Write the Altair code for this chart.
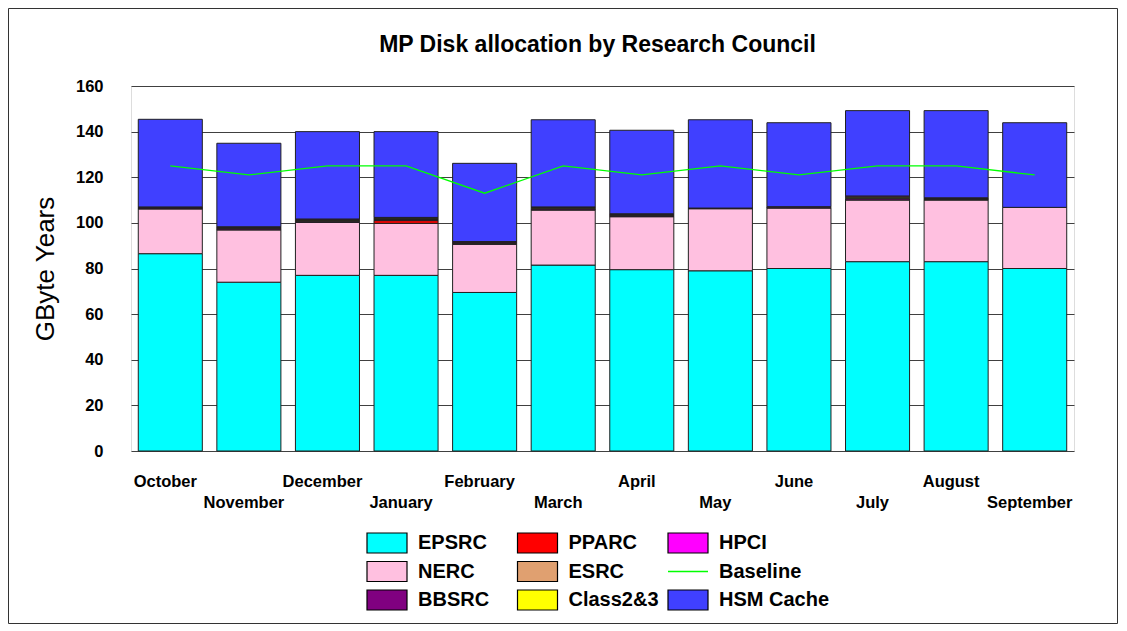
import json
import altair as alt
import pandas as pd

months = ['October', 'November', 'December', 'January', 'February', 'March',
          'April', 'May', 'June', 'July', 'August', 'September']

EPSRC = [86.5, 74.0, 77.0, 77.0, 69.5, 81.5, 79.5, 79.0, 80.0, 83.0, 83.0, 80.0]
NERC = [19.6, 22.9, 23.2, 22.8, 21.1, 24.1, 23.2, 27.2, 26.5, 27.0, 27.0, 26.8]
PPARC = [0.0, 0.0, 0.0, 1.2, 0.0, 0.0, 0.0, 0.0, 0.0, 0.0, 0.0, 0.0]
BBSRC = [0.4, 0.5, 0.5, 0.5, 0.4, 0.5, 0.4, 0.1, 0.2, 0.6, 0.3, 0.0]
ESRC = [0.2, 0.3, 0.3, 0.3, 0.3, 0.3, 0.3, 0.1, 0.1, 0.4, 0.2, 0.0]
CLASS23 = [0.1, 0.3, 0.4, 0.3, 0.2, 0.3, 0.3, 0.0, 0.1, 0.4, 0.2, 0.0]
HPCI = [0.2, 0.3, 0.3, 0.3, 0.3, 0.3, 0.3, 0.1, 0.2, 0.4, 0.3, 0.0]
HSM = [38.4, 36.6, 38.3, 37.6, 34.3, 38.2, 36.6, 38.7, 36.8, 37.4, 38.2, 37.1]
BASELINE = [125, 121, 125, 125, 113, 125, 121, 125, 121, 125, 125, 121]

stack_names = ['EPSRC', 'NERC', 'PPARC', 'BBSRC', 'ESRC', 'Class2&3', 'HPCI', 'HSM Cache']
stack_values = [EPSRC, NERC, PPARC, BBSRC, ESRC, CLASS23, HPCI, HSM]
colors = {
    'EPSRC': '#00FFFF', 'NERC': '#FFC0E0', 'PPARC': '#FF0000', 'BBSRC': '#800080',
    'ESRC': '#E0A070', 'Class2&3': '#FFFF00', 'HPCI': '#FF00FF', 'HSM Cache': '#4040FF',
    'Baseline': '#00FF00',
}
legend_order = ['EPSRC', 'PPARC', 'HPCI', 'NERC', 'ESRC', 'Baseline',
                'BBSRC', 'Class2&3', 'HSM Cache']

FONT = 'Liberation Sans, Arial'

rows = []
for k, (name, vals) in enumerate(zip(stack_names, stack_values)):
    for m, v in zip(months, vals):
        rows.append({'month': m, 'series': name, 'value': v, 'idx': k})
bars_df = pd.DataFrame(rows)
line_df = pd.DataFrame({'month': months, 'value': BASELINE})
leg_df = pd.DataFrame({'name': legend_order,
                       'col': [i % 3 for i in range(len(legend_order))],
                       'row': [i // 3 for i in range(len(legend_order))]})

label_expr = ("indexof(" + json.dumps(months) +
              ", datum.value) % 2 == 1 ? ['', datum.label] : datum.label")

xenc = alt.X('month:N', sort=months,
             scale=alt.Scale(paddingInner=0.185, paddingOuter=0.0925),
             axis=alt.Axis(title=None, ticks=False, domain=False, labelAngle=0,
                           labelFont=FONT, labelFontSize=16.5, labelFontWeight='bold',
                           labelColor='black', labelPadding=22, labelBaseline='top',
                           labelLineHeight=21, labelExpr=label_expr, labelOverlap=False,
                           labelOffset=-5, grid=False))
yenc = alt.Y('value:Q', stack='zero',
             scale=alt.Scale(domain=[0, 160], nice=False),
             axis=alt.Axis(values=list(range(0, 161, 20)), grid=True, ticks=False,
                           domain=False, gridColor='#404040', gridWidth=1,
                           labelFont=FONT, labelFontSize=16.5, labelFontWeight='bold',
                           labelColor='black', labelPadding=28,
                           title='GByte Years', titleFont=FONT, titleFontSize=26,
                           titleFontWeight='normal', titleColor='black',
                           titleX=-86, titleY=182.5, titleAngle=270,
                           titleAlign='center', titleBaseline='middle'))

bars = alt.Chart(bars_df).transform_filter('datum.value > 0').mark_bar(
    stroke='#202020', strokeWidth=1
).encode(
    x=xenc,
    y=yenc,
    color=alt.Color('series:N', legend=None,
                    scale=alt.Scale(domain=stack_names,
                                    range=[colors[n] for n in stack_names])),
    order=alt.Order('idx:Q', sort='ascending'),
)

line = alt.Chart(line_df).mark_line(color='#00FF00', strokeWidth=1.3).encode(
    x=alt.X('month:N', sort=months),
    y=alt.Y('value:Q'),
)

main = alt.layer(bars, line)

lx = alt.X('col:Q', axis=None, scale=alt.Scale(domain=[0, 2], range=[256, 557]))
ly = alt.Y('row:Q', axis=None, scale=alt.Scale(domain=[0, 2], range=[457, 514]))

swatch = alt.Chart(leg_df).transform_filter("datum.name != 'Baseline'").mark_point(
    shape='M-1,-0.5H1V0.5H-1Z', size=1600, filled=True, opacity=1,
    stroke='black', strokeWidth=1.2
).encode(
    x=lx, y=ly,
    fill=alt.Fill('name:N', legend=None,
                  scale=alt.Scale(domain=legend_order,
                                  range=[colors[n] for n in legend_order])),
)
swatch_line = alt.Chart(leg_df).transform_filter("datum.name == 'Baseline'").mark_point(
    shape='M-1,0H1', size=1600, filled=False, opacity=1,
    stroke='#00FF00', strokeWidth=1.3
).encode(x=lx, y=ly)
texts = alt.Chart(leg_df).mark_text(
    align='left', baseline='middle', dx=31, font=FONT, fontSize=20,
    fontWeight='bold', color='black'
).encode(x=lx, y=ly, text='name:N')

border = alt.Chart(pd.DataFrame({'b': [0]})).mark_rect(
    fill=None, stroke='#333333', strokeWidth=1
).encode(x=alt.value(-122.5), x2=alt.value(986.5),
         y=alt.value(-77.5), y2=alt.value(537.5))

legend_layer = alt.layer(swatch, swatch_line, texts, border)

chart = alt.layer(main, legend_layer).resolve_scale(
    x='independent', y='independent', color='independent', fill='independent'
).properties(
    width=943, height=365,
    autosize=alt.AutoSizeParams(type='none'),
    padding={'left': 123, 'top': 78, 'right': 44, 'bottom': 173},
    title=alt.TitleParams(text='MP Disk allocation by Research Council',
                          font=FONT, fontSize=23, fontWeight='bold', color='black',
                          anchor='middle', frame='group', offset=33,
                          baseline='alphabetic', dx=-5, dy=99.5),
).configure_view(
    stroke='black', strokeWidth=1.5
).configure(background='white')

chart.save('out.html', embed_options={'renderer': 'svg', 'actions': False})
